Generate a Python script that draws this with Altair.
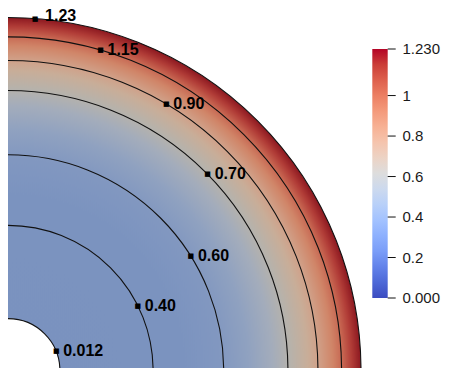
import altair as alt
import pandas as pd

# ---- data ----
levels = ["0.012", "0.40", "0.60", "0.70", "0.90", "1.15", "1.23"]
level_radius = [0.147, 0.411, 0.611, 0.793, 0.878, 0.945, 1.0]   # fraction of outer radius
label_theta = [68.3, 63.4, 58.0, 45.5, 30.7, 16.1, 4.4]          # degrees, clockwise from vertical
inner_radius = 0.147
outer_radius = 1.0
sweep = [0.0, 90.0]

# shaded field colour along the radius (fraction of outer radius)
field_offsets = [0.147, 0.50, 0.60, 0.68, 0.75, 0.80, 0.85, 0.88, 0.92, 0.95, 0.975, 1.0]
field_colors = ["#7a92bf", "#7b93bf", "#8197c0", "#8fa1c0", "#a3acbb", "#b6b2ab",
                "#c8ad98", "#d0a088", "#d08568", "#c66450", "#b03b36", "#8c1820"]

# colour bar
cbar_min, cbar_max = 0.0, 1.23
cbar_ticks = [0.0, 0.2, 0.4, 0.6, 0.8, 1.0, 1.23]
cbar_labels = ["0.000", "0.2", "0.4", "0.6", "0.8", "1", "1.230"]
cool_warm = ["#3b4cc0", "#4d68d7", "#6282ea", "#7a9df8", "#8db0fe", "#a3c2ff", "#b8d0f9",
             "#ccd9ee", "#dddddd", "#ecd3c5", "#f5c4ad", "#f7b194", "#f49a7b", "#ec7f63",
             "#de604d", "#cb3e38", "#b40426"]

# ---- tables ----
field_df = pd.DataFrame({"t0": [sweep[0]], "t1": [sweep[1]],
                         "rin": [inner_radius], "rout": [outer_radius]})
lev_df = pd.DataFrame({"level": levels, "r": level_radius, "theta": label_theta,
                       "t0": sweep[0], "t1": sweep[1]})
cbar_df = pd.DataFrame({"lo": [cbar_min], "hi": [cbar_max]})
tick_df = pd.DataFrame({"v": cbar_ticks, "label": cbar_labels})

theta_scale = alt.Scale(type="linear", domain=[0, 360], range=[0, 6.283185307179586])
radius_scale = alt.Scale(type="linear", domain=[0, 1], range=[0, 353], zero=True)
cx = alt.value(0)
cy = alt.value(362.5)

field = alt.Chart(field_df).mark_arc(
    fill=alt.Gradient(
        gradient="radial", x1=0, y1=1, x2=0, y2=1, r1=0, r2=1,
        stops=[alt.GradientStop(offset=o, color=c) for o, c in zip(field_offsets, field_colors)],
    )
).encode(
    theta=alt.Theta("t0:Q", scale=theta_scale, stack=None),
    theta2="t1:Q",
    radius=alt.Radius("rout:Q", scale=radius_scale),
    radius2="rin:Q",
    x=cx, y=cy,
)

contours = alt.Chart(lev_df).mark_arc(
    fill="transparent", stroke="#111111", strokeWidth=1.1
).encode(
    theta=alt.Theta("t0:Q", scale=theta_scale, stack=None),
    theta2="t1:Q",
    radius=alt.Radius("r:Q", scale=radius_scale),
    radius2="r:Q",
    x=cx, y=cy,
)

dots = alt.Chart(lev_df).mark_text(
    text="\u25a0", fontSize=7, font="DejaVu Sans", align="center", baseline="middle", color="black"
).encode(
    theta=alt.Theta("theta:Q", scale=theta_scale, stack=None),
    radius=alt.Radius("r:Q", scale=radius_scale),
    x=cx, y=cy,
)

labels = alt.Chart(lev_df).transform_filter(alt.datum.level != "1.23").mark_text(
    align="left", baseline="middle", dx=7, fontSize=16, fontWeight="bold",
    font="Liberation Sans", color="black"
).encode(
    theta=alt.Theta("theta:Q", scale=theta_scale, stack=None),
    radius=alt.Radius("r:Q", scale=radius_scale),
    text="level:N",
    x=cx, y=cy,
)

top_label = alt.Chart(lev_df).transform_filter(alt.datum.level == "1.23").mark_text(
    align="left", baseline="middle", dx=10, dy=-3, fontSize=16, fontWeight="bold",
    font="Liberation Sans", color="black"
).encode(
    theta=alt.Theta("theta:Q", scale=theta_scale, stack=None),
    radius=alt.Radius("r:Q", scale=radius_scale),
    text="level:N",
    x=cx, y=cy,
)

cy_scale = alt.Scale(domain=[cbar_min, cbar_max], range=[290, 41])

cbar = alt.Chart(cbar_df).mark_rect(
    fill=alt.Gradient(
        gradient="linear", x1=0, y1=1, x2=0, y2=0,
        stops=[alt.GradientStop(offset=i / (len(cool_warm) - 1), color=c)
               for i, c in enumerate(cool_warm)],
    )
).encode(
    y=alt.Y("lo:Q", scale=cy_scale, axis=None),
    y2="hi:Q",
    x=alt.value(364.3), x2=alt.value(379.7),
)

ticks = alt.Chart(tick_df).mark_rule(color="#111111", strokeWidth=1).encode(
    y=alt.Y("v:Q", scale=cy_scale, axis=None),
    x=alt.value(379.7), x2=alt.value(387.7),
)

tick_labels = alt.Chart(tick_df).mark_text(
    align="left", baseline="middle", fontSize=15, font="Liberation Sans", color="#1a1a1a"
).encode(
    y=alt.Y("v:Q", scale=cy_scale, axis=None),
    x=alt.value(394.5),
    text="label:N",
)

chart = alt.layer(field, contours, dots, labels, top_label, cbar, ticks, tick_labels).properties(
    width=434, height=360, padding=0, autosize=alt.AutoSizeParams(type="none"),
    background="white",
).configure_view(stroke=None)

chart.save("out.html", embed_options={"renderer": "svg", "actions": False})
